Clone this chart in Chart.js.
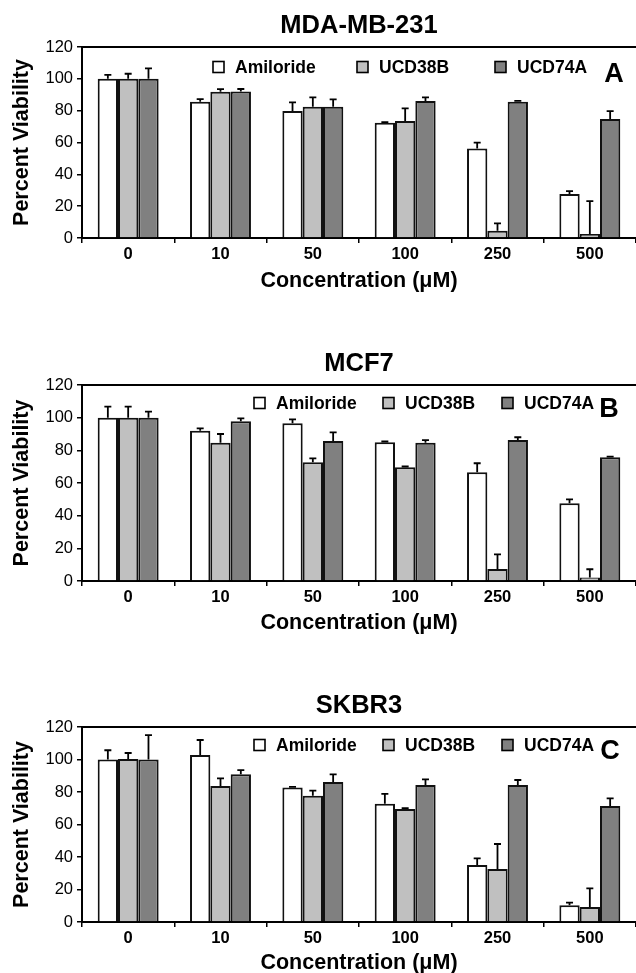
<!DOCTYPE html>
<html>
<head>
<meta charset="utf-8">
<script src="https://cdn.jsdelivr.net/npm/chart.js@4.4.0/dist/chart.umd.min.js"></script>
<style>
  html, body { margin: 0; padding: 0; background: #fff; overflow: hidden; }
  .panel { position: absolute; left: 0; width: 636px; height: 305px; }
</style>
</head>
<body>
<div class="panel" id="pA" style="top:0px"><canvas id="chartA"></canvas></div>
<div class="panel" id="pB" style="top:338px"><canvas id="chartB"></canvas></div>
<div class="panel" id="pC" style="top:680px"><canvas id="chartC"></canvas></div>
<script>
// categories and series
const concentrations = ["0", "10", "50", "100", "250", "500"];
const seriesNames = ["Amiloride", "UCD38B", "UCD74A"];
const seriesColors = ["#ffffff", "#c0c0c0", "#808080"];
const yTicks = [0, 20, 40, 60, 80, 100, 120];

// MDA-MB-231 (panel A)
const mdaAmiloride = [100, 85.6, 79.8, 72.4, 56.3, 27.6];
const mdaAmilorideErr = [2.5, 1.7, 5.4, 0.4, 3.6, 1.9];
const mdaUcd38b = [100, 91.9, 82.5, 73.5, 4.6, 2.5];
const mdaUcd38bErr = [3.2, 1.6, 5.9, 8.0, 4.6, 20.7];
const mdaUcd74a = [100, 92, 82.5, 86.1, 85.6, 74.7];
const mdaUcd74aErr = [6.6, 1.6, 4.6, 2.3, 0.5, 5.0];

// MCF7 (panel B)
const mcfAmiloride = [100, 92, 96.6, 84.9, 66.6, 47.6];
const mcfAmilorideErr = [6.7, 1.5, 2.4, 0.5, 5.5, 2.4];
const mcfUcd38b = [100, 84.7, 72.7, 69.6, 7.3, 2.2];
const mcfUcd38bErr = [6.7, 5.3, 2.4, 0.5, 9.0, 5.0];
const mcfUcd74a = [100, 97.8, 85.7, 84.7, 86.3, 75.7];
const mcfUcd74aErr = [3.7, 1.8, 5.3, 1.6, 1.7, 0.5];

// SKBR3 (panel C)
const skbAmiloride = [100, 102.8, 82.7, 72.8, 35.1, 10.3];
const skbAmilorideErr = [5.7, 9.2, 0.4, 6.0, 4.1, 1.6];
const skbUcd38b = [100.3, 83.7, 77.7, 69.5, 32.6, 9.2];
const skbUcd38bErr = [3.7, 4.7, 3.1, 0.6, 15.4, 11.5];
const skbUcd74a = [100, 90.9, 86.2, 84.3, 84.3, 71.4];
const skbUcd74aErr = [15.0, 2.6, 4.7, 3.5, 3.1, 4.7];

const FONT = 'Arial, "Liberation Sans", Helvetica, sans-serif';
Chart.defaults.font.family = FONT;
Chart.defaults.color = "#000";

// draws upper error bars, the top frame line, the in-plot legend and panel letter
const panelDecor = {
  id: "panelDecor",
  afterDatasetsDraw(chart, args, opts) {
    const ctx = chart.ctx;
    const y = chart.scales.y;
    const area = chart.chartArea;
    ctx.save();

    // error bars
    ctx.strokeStyle = "#000";
    ctx.lineWidth = 1.8;
    chart.data.datasets.forEach((ds, i) => {
      const meta = chart.getDatasetMeta(i);
      meta.data.forEach((bar, j) => {
        const top = y.getPixelForValue(ds.data[j] + ds.errors[j]);
        ctx.beginPath();
        ctx.moveTo(bar.x, bar.y);
        ctx.lineTo(bar.x, top);
        ctx.moveTo(bar.x - 3.5, top);
        ctx.lineTo(bar.x + 3.5, top);
        ctx.stroke();
      });
    });

    // top frame line
    ctx.lineWidth = 2;
    ctx.beginPath();
    ctx.moveTo(area.left, area.top);
    ctx.lineTo(area.right, area.top);
    ctx.stroke();

    // legend
    ctx.font = "bold 17.5px " + FONT;
    ctx.textBaseline = "middle";
    ctx.textAlign = "left";
    const ly = area.top + opts.legendDy;
    chart.data.datasets.forEach((ds, i) => {
      const bx = opts.legendX[i];
      ctx.fillStyle = ds.backgroundColor;
      ctx.fillRect(bx, ly - 5.5, 11, 11);
      ctx.lineWidth = 1.6;
      ctx.strokeRect(bx, ly - 5.5, 11, 11);
      ctx.fillStyle = "#000";
      ctx.fillText(ds.label, bx + 22, ly + 1);
    });

    // panel letter
    ctx.font = "bold 27px " + FONT;
    ctx.textAlign = "center";
    ctx.fillText(opts.letter, opts.letterX, area.top + opts.letterDy);
    ctx.restore();
  }
};

function makePanel(canvasId, title, letter, values, errors, layout) {
  const divH = 305;
  const xAxisH = divH - layout.areaBottom;
  return new Chart(document.getElementById(canvasId), {
    type: "bar",
    data: {
      labels: concentrations,
      datasets: seriesNames.map((name, i) => ({
        label: name,
        data: values[i],
        errors: errors[i],
        backgroundColor: seriesColors[i],
        borderColor: "#111",
        borderWidth: 2,
        borderSkipped: "bottom",
        categoryPercentage: 0.66,
        barPercentage: 1.0
      }))
    },
    options: {
      responsive: true,
      maintainAspectRatio: false,
      animation: false,
      devicePixelRatio: 1,
      layout: { padding: 0 },
      scales: {
        x: {
          offset: true,
          afterFit: (s) => { s.height = xAxisH; },
          grid: { display: true, offset: true, drawOnChartArea: false, drawTicks: true, tickLength: 5, color: "#000", lineWidth: 1.5 },
          border: { display: true, color: "#000", width: 2 },
          ticks: { font: { size: 16.5, weight: "bold" }, color: "#000", padding: 2 },
          title: {
            display: true,
            text: "Concentration (\u03bcM)",
            font: { size: 21.5, weight: "bold" },
            color: "#000",
            padding: { top: 0, bottom: xAxisH - 12.9 - layout.xTitleDy }
          }
        },
        y: {
          min: 0,
          max: 120,
          afterFit: (s) => { s.width = 82; },
          afterBuildTicks: (s) => { s.ticks = yTicks.map(v => ({ value: v })); },
          grid: { drawOnChartArea: false, drawTicks: true, tickLength: 5, color: "#000", lineWidth: 1.5 },
          border: { display: true, color: "#000", width: 2 },
          ticks: { font: { size: 16.5 }, color: "#000", padding: 4 },
          title: {
            display: true,
            text: "Percent Viability",
            font: { size: 21.5, weight: "bold" },
            color: "#000",
            padding: { top: 9, bottom: 0 }
          }
        }
      },
      plugins: {
        legend: { display: false },
        tooltip: { enabled: false },
        title: {
          display: true,
          text: title,
          fullSize: false,
          color: "#000",
          font: { size: 25.5, weight: "bold" },
          padding: { top: layout.titleY - 15.3, bottom: 47 - layout.titleY - 15.3 }
        },
        panelDecor: layout.decor
      }
    },
    plugins: [panelDecor]
  });
}

makePanel("chartA", "MDA-MB-231", "A",
  [mdaAmiloride, mdaUcd38b, mdaUcd74a],
  [mdaAmilorideErr, mdaUcd38bErr, mdaUcd74aErr],
  { titleY: 26, areaBottom: 238, xTitleDy: 43, decor: { legendX: [213, 357, 495], legendDy: 20, letter: "A", letterX: 614, letterDy: 28 } });

makePanel("chartB", "MCF7", "B",
  [mcfAmiloride, mcfUcd38b, mcfUcd74a],
  [mcfAmilorideErr, mcfUcd38bErr, mcfUcd74aErr],
  { titleY: 26, areaBottom: 243, xTitleDy: 42.5, decor: { legendX: [254, 383, 502], legendDy: 18, letter: "B", letterX: 609, letterDy: 25 } });

makePanel("chartC", "SKBR3", "C",
  [skbAmiloride, skbUcd38b, skbUcd74a],
  [skbAmilorideErr, skbUcd38bErr, skbUcd74aErr],
  { titleY: 26, areaBottom: 242, xTitleDy: 41, decor: { legendX: [254, 383, 502], legendDy: 18, letter: "C", letterX: 610, letterDy: 25 } });
</script>
</body>
</html>
